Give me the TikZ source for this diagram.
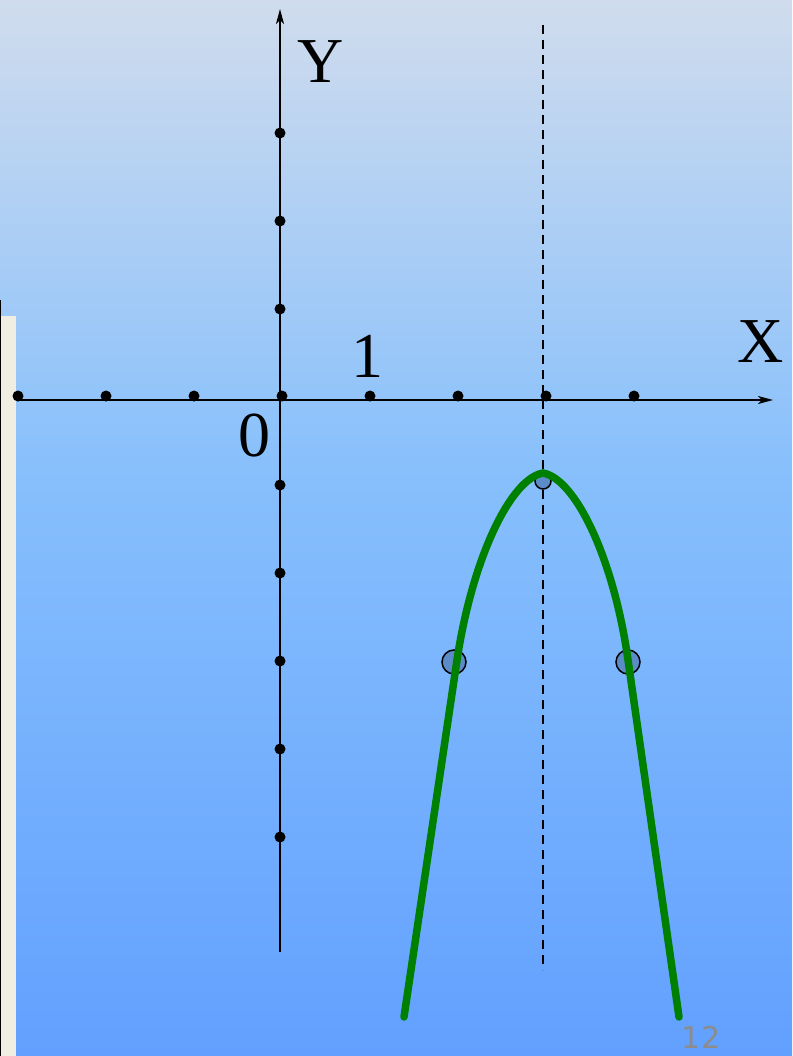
\documentclass[tikz,border=0pt]{standalone}
\usepackage{fontspec}
\setmainfont{Liberation Serif}
\newfontfamily\pagefont{DejaVu Sans}
\usetikzlibrary{arrows.meta}
\definecolor{bgtop}{RGB}{208,220,237}
\definecolor{bgmid}{RGB}{136,192,252}
\definecolor{bgbot}{RGB}{98,160,255}
\definecolor{strip}{RGB}{240,238,227}
\definecolor{curvegreen}{RGB}{0,128,0}
\definecolor{ptfill}{RGB}{92,140,200}
\definecolor{pagegray}{RGB}{140,140,140}
\pgfdeclareverticalshading{bgshade}{100bp}{color(0bp)=(bgbot); color(25bp)=(bgbot); color(53bp)=(bgmid); color(75bp)=(bgtop); color(100bp)=(bgtop)}
\tikzset{
  axisline/.style={line width=1.6pt, -{Stealth[length=15pt,width=8pt,inset=4pt]}},
  tickdot/.style={circle, fill=black, inner sep=0pt, minimum size=11pt},
  lbl/.style={font=\fontsize{64}{64}\selectfont, inner sep=0pt},
  markpt/.style={circle, draw=black, line width=1.5pt, fill=ptfill, inner sep=0pt, minimum size=24pt},
  parab/.style={curvegreen, line width=7.5pt, line cap=round, line join=miter},
  symline/.style={line width=1.6pt, dash pattern=on 9pt off 6pt},
}
\begin{document}
\begin{tikzpicture}[x=1pt,y=-1pt]
\useasboundingbox (0,0) rectangle (792,1056);
\fill[shading=bgshade] (0,0) rectangle (792,1056);
% left strip
\fill[strip] (1,316) rectangle (16,1056);
\draw[line width=2pt] (0,300) -- (0,1056);
% axes
\coordinate (xs) at (16,400);
\coordinate (xe) at (773,400);
\coordinate (ys) at (280,952);
\coordinate (ye) at (280,9);
\draw[axisline] (xs) -- (xe);
\draw[axisline] (ys) -- (ye);
% dots on x axis
\foreach \i/\x in {a/18,b/106,c/194,d/282,e/370,f/458,g/546,h/634}
  \node[tickdot] (xd\i) at (\x,396) {};
% dots on y axis
\foreach \i/\y in {a/133,b/221,c/309,d/485,e/573,f/661,g/749,h/837}
  \node[tickdot] (yd\i) at (280,\y) {};
% labels
\node[lbl] (ylab) at (321,62) {Y};
\node[lbl] (xlab) at (761,342) {X};
\node[lbl] (one) at (367,356) {1};
\node[lbl] (zero) at (254,436) {0};
% symmetry line
\coordinate (st) at (543,25);
\coordinate (sb) at (543,970);
\draw[symline] (st) -- (sb);
% marked points
\node[markpt, minimum size=16pt] (pv) at (543,481) {};
\node[markpt] (pl) at (454,662) {};
\node[markpt] (pr) at (628,662) {};
% parabola
\coordinate (cl) at (404,1017);
\coordinate (ml) at (457,660);
\coordinate (vx) at (543,473);
\coordinate (mr) at (628,660);
\coordinate (cr) at (679,1017);
\draw[parab] (cl) -- (ml) .. controls (472,560) and (510,479) .. (vx)
  .. controls (576,479) and (614,560) .. (mr) -- (cr);
% page number
\node[font=\pagefont\fontsize{30}{30}\selectfont, text=pagegray, inner sep=0pt, anchor=base] (pg) at (701,1048) {12};
\end{tikzpicture}
\end{document}
